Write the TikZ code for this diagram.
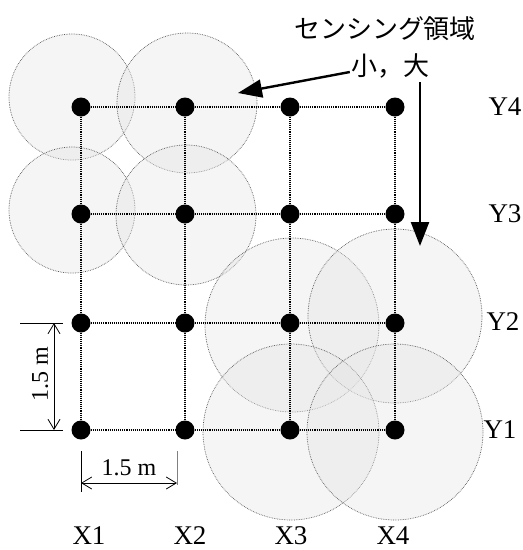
\documentclass[tikz,border=0pt]{standalone}
\usepackage{fontspec}
\setmainfont{Liberation Serif}
\newfontfamily\jpfont{Noto Sans CJK JP}
\usetikzlibrary{arrows.meta}
\begin{document}
\begin{tikzpicture}[x=1pt,y=-1pt,
  sensor/.style={circle,fill=black,inner sep=0pt,minimum size=19pt},
  area/.style={draw=black!65,densely dotted,line width=0.7pt,fill=black!10,fill opacity=0.4},
  gridline/.style={densely dotted,line width=1.1pt},
  lbl/.style={font=\fontsize{27}{27}\selectfont,inner sep=0pt},
  dimlbl/.style={font=\fontsize{24}{24}\selectfont,inner sep=0pt},
  jplbl/.style={font=\jpfont\fontsize{26}{26}\selectfont,inner sep=0pt},
  bigarrow/.style={line width=2.4pt,-{Triangle[length=24pt,width=18pt]}},
  dimarrow/.style={line width=0.8pt,{Straight Barb[length=10pt,width=12pt]}-{Straight Barb[length=10pt,width=12pt]}},
  tick/.style={line width=0.8pt}]
\useasboundingbox (0,0) rectangle (523,550);
% sensing areas (small)
\draw[area] (72,97) circle[radius=63];
\draw[area] (187,103) circle[radius=70];
\draw[area] (72,210) circle[radius=63];
\draw[area] (186,215) circle[radius=70];
% sensing areas (large)
\draw[area] (292,325) circle[radius=87];
\draw[area] (395,316) circle[radius=87];
\draw[area] (291,432) circle[radius=88];
\draw[area] (395,432) circle[radius=88];
% grid
\foreach \i/\x in {1/81,2/185,3/290,4/395}{
  \foreach \j/\y in {1/430,2/323,3/214,4/107}{
    \node[sensor] (p\i\j) at (\x,\y) {};
  }
}
\foreach \j in {1,2,3,4}{
  \draw[gridline] (p1\j) -- (p2\j) -- (p3\j) -- (p4\j);
}
\foreach \i in {1,2,3,4}{
  \draw[gridline] (p\i4) -- (p\i3) -- (p\i2) -- (p\i1);
}
% axis labels
\node[lbl] (y4) at (505,107) {Y4};
\node[lbl] (y3) at (505,214) {Y3};
\node[lbl] (y2) at (503,322) {Y2};
\node[lbl] (y1) at (500,430) {Y1};
\node[lbl] (x1) at (89,536) {X1};
\node[lbl] (x2) at (190,536) {X2};
\node[lbl] (x3) at (291,536) {X3};
\node[lbl] (x4) at (393,536) {X4};
% annotation
\node[jplbl] (title) at (385,29) {センシング領域};
\node[jplbl] (size) at (390,66) {小，大};
\coordinate (a1e) at (238,93);
\coordinate (a2s) at (420,82);
\coordinate (a2e) at (420,246);
\draw[bigarrow] ([xshift=-1pt,yshift=-6pt]size.west) -- (a1e);
\draw[bigarrow] (a2s) -- (a2e);
% dimensions
\coordinate (v1) at (20,323);
\coordinate (v2) at (20,430);
\coordinate (h1) at (81,451);
\coordinate (h2) at (177,451);
\draw[tick] (v1) -- ++(43,0);
\draw[tick] (v2) -- ++(43,0);
\draw[dimarrow] (54,323) -- (54,430);
\node[dimlbl,rotate=90] (dv) at (40,374) {1.5 m};
\draw[tick] (h1) -- ++(0,41);
\draw[tick,black!50] (h2) -- ++(0,34);
\draw[dimarrow] (81,483) -- (177,483);
\node[dimlbl] (dh) at (129,468) {1.5 m};
\end{tikzpicture}
\end{document}
